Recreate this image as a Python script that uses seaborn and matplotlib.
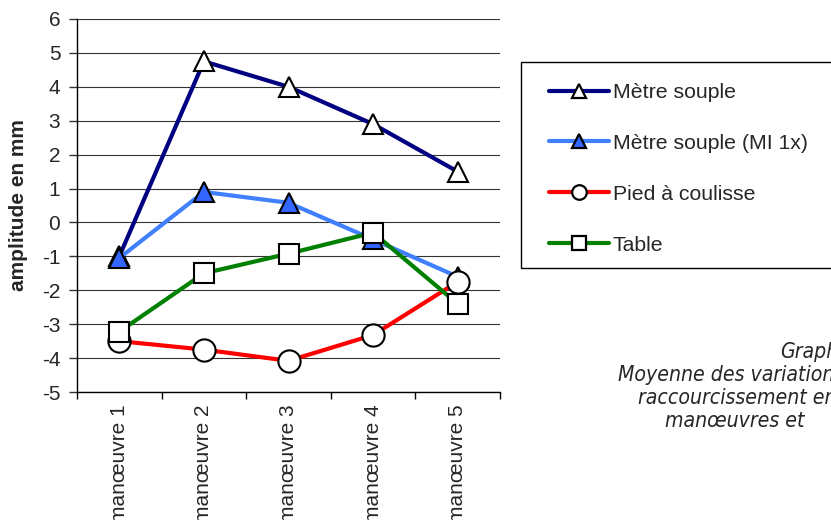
import numpy as np
import pandas as pd
import matplotlib
matplotlib.use("Agg")
import matplotlib.pyplot as plt
from matplotlib.patches import Rectangle
from matplotlib.lines import Line2D
import seaborn as sns

# --- Data ---
categories = ["manœuvre 1", "manœuvre 2", "manœuvre 3", "manœuvre 4", "manœuvre 5"]
metre_souple = [-1.0, 4.75, 4.0, 2.9, 1.5]
metre_souple_mi = [-1.05, 0.9, 0.58, -0.5, -1.6]
pied_coulisse = [-3.5, -3.75, -4.08, -3.32, -1.75]
table = [-3.22, -1.5, -0.92, -0.3, -2.4]
y_ticks = list(range(-5, 7))

series = [
    ("Mètre souple", metre_souple, "#000080", "^", "white", 15),
    ("Mètre souple (MI 1x)", metre_souple_mi, "#4080FF", "^", "#3366FF", 15),
    ("Pied à coulisse", pied_coulisse, "#FF0000", "o", "white", 16),
    ("Table", table, "#008000", "s", "white", 14.5),
]

sns.set_theme(style="white")
plt.rcParams["font.family"] = ["Liberation Sans", "DejaVu Sans"]

fig = plt.figure(figsize=(8.31, 5.2), dpi=100)
ax = fig.add_axes([77 / 831, 1 - 392 / 520, 423 / 831, 373 / 520])

handles = []
for name, vals, color, marker, face, ms in series:
    df = pd.DataFrame({"cat": categories, "val": vals})
    sns.lineplot(data=df, x="cat", y="val", ax=ax, color=color, lw=3,
                 marker=marker, markersize=ms,
                 markerfacecolor=face, markeredgecolor="black",
                 markeredgewidth=1.5, sort=False, zorder=3)
    handles.append(Line2D([], [], color=color, lw=3, marker=marker,
                          markersize=10.5 if marker != "s" else 10,
                          markerfacecolor=face, markeredgecolor="black",
                          markeredgewidth=1.6, label=name))

ax.set_xlim(-0.5, len(categories) - 0.5)
ax.set_ylim(-5, 6)
ax.set_yticks(y_ticks)
ax.set_yticklabels([str(t) for t in y_ticks], fontsize=15)
ax.set_xticks(range(len(categories)))
ax.set_xticklabels(categories, rotation=90, fontsize=15, va="top")
ax.set_xticks(np.arange(-0.5, len(categories), 1), minor=True)
ax.tick_params(axis="x", which="major", length=0, pad=9)
ax.tick_params(axis="x", which="minor", length=5, width=1, color="black", direction="out", bottom=True)
ax.tick_params(axis="y", length=6, width=1, color="#333333", direction="out", left=True, pad=6)
ax.yaxis.grid(True, color="#333333", lw=0.8)
ax.xaxis.grid(False)
ax.set_xlabel("")
ax.set_ylabel("amplitude en mm", fontsize=15, fontweight="bold")
ax.yaxis.set_label_coords(-49 / 423, 0.5)
for side in ["top", "right"]:
    ax.spines[side].set_visible(False)
for side in ["left", "bottom"]:
    ax.spines[side].set_color("black")
    ax.spines[side].set_linewidth(1)
ax.set_axisbelow(True)

# legend box (runs past the right edge like the original)
fig.patches.append(Rectangle((521 / 831, 1 - 268 / 520), 330 / 831, 206 / 520,
                             transform=fig.transFigure, fill=False,
                             edgecolor="black", lw=1))
fig.legend(handles=handles, loc="upper left",
           bbox_to_anchor=(549 / 831, 1 - 83 / 520), frameon=False,
           fontsize=15.3, handlelength=2.8, handletextpad=0.2,
           labelspacing=1.5, borderaxespad=0, borderpad=0)

# caption, cut off at the right edge like the original
caption = ["Graphique", "Moyenne des variations", "raccourcissement en", "manœuvres et"]
cap_x = [780, 618, 638, 665]
cap_y = [352, 375, 398, 421]
for txt, cx, cy in zip(caption, cap_x, cap_y):
    fig.text(cx / 831, 1 - cy / 520, txt, fontsize=15.2, style="italic",
             fontstretch="condensed",
             family=["DejaVu Sans", "Liberation Sans"],
             va="center", ha="left")

fig.savefig("out.png", dpi=100)
